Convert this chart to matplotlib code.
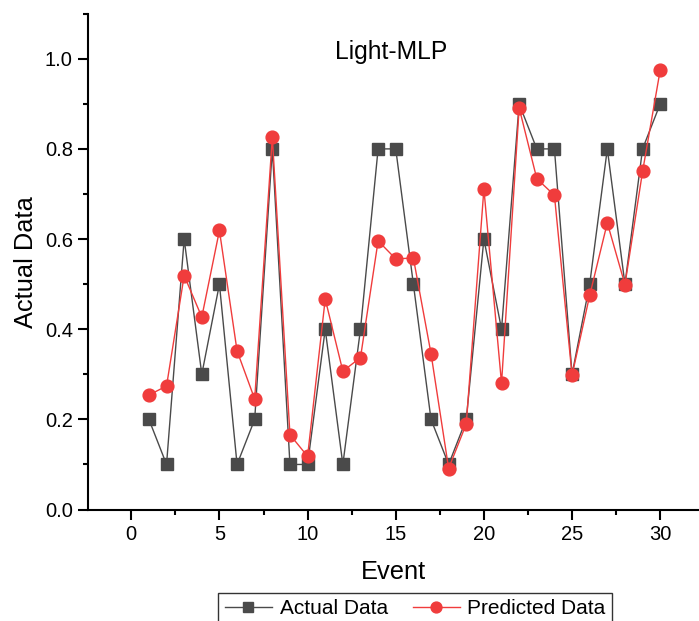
import numpy as np
import matplotlib.pyplot as plt
from matplotlib.ticker import MultipleLocator

plt.rcParams["font.family"] = ["Liberation Sans", "DejaVu Sans"]

events = list(range(1, 31))
actual = [0.2, 0.1, 0.6, 0.3, 0.5, 0.1, 0.2, 0.8, 0.1, 0.1,
          0.4, 0.1, 0.4, 0.8, 0.8, 0.5, 0.2, 0.1, 0.2, 0.6,
          0.4, 0.9, 0.8, 0.8, 0.3, 0.5, 0.8, 0.5, 0.8, 0.9]
predicted = [0.254, 0.274, 0.519, 0.427, 0.619, 0.352, 0.245, 0.826, 0.166, 0.118,
             0.467, 0.307, 0.337, 0.596, 0.556, 0.558, 0.346, 0.091, 0.190, 0.711,
             0.280, 0.891, 0.734, 0.697, 0.298, 0.475, 0.636, 0.499, 0.750, 0.975]
yticks = [0.0, 0.2, 0.4, 0.6, 0.8, 1.0]

CLR_ACTUAL = "#4a4a4a"
CLR_PRED = "#f03c3c"

fig = plt.figure(figsize=(6.99, 6.21), dpi=100)
ax = fig.add_axes([0.126, 0.1795, 0.874, 0.7985])

ax.plot(events, actual, color=CLR_ACTUAL, lw=1, marker="s", ms=8.2,
        mfc=CLR_ACTUAL, mec=CLR_ACTUAL, label="Actual Data", zorder=2)
ax.plot(events, predicted, color=CLR_PRED, lw=1, marker="o", ms=9.2,
        mfc=CLR_PRED, mec=CLR_PRED, label="Predicted Data", zorder=3)

ax.set_xlim(-2.45, 32.2)
ax.set_ylim(0, 1.1)
ax.xaxis.set_major_locator(MultipleLocator(5))
ax.xaxis.set_minor_locator(MultipleLocator(2.5))
ax.set_yticks(yticks)
ax.set_yticklabels([f"{v:.1f}" for v in yticks])
ax.set_yticks(np.arange(0.1, 1.11, 0.2), minor=True)

for s in ["top", "right"]:
    ax.spines[s].set_visible(False)
for s in ["left", "bottom"]:
    ax.spines[s].set_linewidth(1.5)
ax.tick_params(which="major", direction="out", length=7, width=1.5,
               labelsize=14.5, pad=4)
ax.tick_params(which="minor", direction="out", length=3.5, width=1.5)

ax.text(0.4955, 0.908, "Light-MLP", transform=ax.transAxes, ha="center",
        va="baseline", fontsize=17.7)
ax.set_xlabel("Event", fontsize=18.3, labelpad=12)
ax.set_ylabel("Actual Data", fontsize=18.3, labelpad=5)

leg = fig.legend(loc="upper center", bbox_to_anchor=(0.594, 0.045), ncol=2,
                 fontsize=15, frameon=True, fancybox=False, edgecolor="black",
                 handlelength=2.25, columnspacing=1.2, handletextpad=0.38,
                 borderpad=0.3, borderaxespad=0, markerscale=0.85)
leg.get_frame().set_linewidth(1)

fig.savefig("out.png", dpi=100)
